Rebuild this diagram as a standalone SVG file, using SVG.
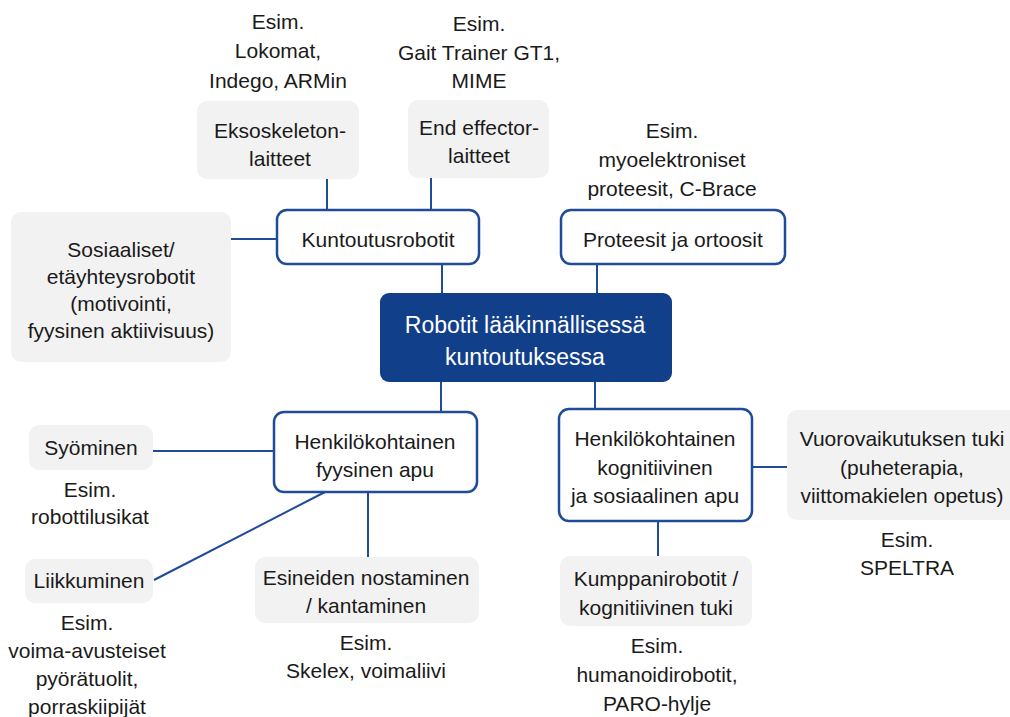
<svg xmlns="http://www.w3.org/2000/svg" width="1010" height="717" viewBox="0 0 1010 717">
<style>
text{font-family:"Liberation Sans",Arial,sans-serif;font-size:21px;fill:#1a1a1a;text-anchor:middle}
.grey{fill:#f2f2f2;stroke:none}
.white{fill:#ffffff;stroke:#1f4b99;stroke-width:2.5}
.main{fill:#123f8a}
.main-t{fill:#ffffff;font-size:23px}
.conn line{stroke:#1f4b99;stroke-width:2}
</style>
<rect width="1010" height="717" fill="#ffffff"/>
<g class="conn" id="connectors">
<line x1="327" y1="179" x2="327" y2="210"/>
<line x1="431" y1="178" x2="431" y2="210"/>
<line x1="231" y1="239" x2="277" y2="239"/>
<line x1="442" y1="264" x2="442" y2="293"/>
<line x1="597" y1="264" x2="597" y2="293"/>
<line x1="441" y1="382" x2="441" y2="412"/>
<line x1="595" y1="382" x2="595" y2="409"/>
<line x1="153" y1="451" x2="274" y2="451"/>
<line x1="325" y1="492" x2="154" y2="580"/>
<line x1="368" y1="492" x2="368" y2="557"/>
<line x1="752" y1="467" x2="787" y2="467"/>
<line x1="658" y1="521" x2="658" y2="556"/>
</g>
<g id="center">
<rect class="main" x="380" y="293" width="292" height="89" rx="9"/>
<text class="main-t" x="525" y="333">Robotit lääkinnällisessä</text>
<text class="main-t" x="525" y="365">kuntoutuksessa</text>
</g>
<g id="kuntoutusrobotit">
<rect class="white" x="277" y="210" width="202" height="54" rx="10"/>
<text x="378" y="247">Kuntoutusrobotit</text>
</g>
<g id="proteesit">
<rect class="white" x="561" y="210" width="224" height="54" rx="10"/>
<text x="673" y="247">Proteesit ja ortoosit</text>
</g>
<g id="eksoskeleton">
<rect class="grey" x="197" y="101" width="162" height="78" rx="10"/>
<text x="280" y="138">Eksoskeleton-</text>
<text x="280" y="166">laitteet</text>
</g>
<g id="endeffector">
<rect class="grey" x="408" y="100" width="141" height="78" rx="10"/>
<text x="479" y="135">End effector-</text>
<text x="479" y="163">laitteet</text>
</g>
<g id="sosiaaliset">
<rect class="grey" x="11" y="212" width="220" height="150" rx="10"/>
<text x="121" y="257">Sosiaaliset/</text>
<text x="121" y="284">etäyhteysrobotit</text>
<text x="121" y="311">(motivointi,</text>
<text x="121" y="338">fyysinen aktiivisuus)</text>
</g>
<g id="fyysinen">
<rect class="white" x="274" y="412" width="203" height="80" rx="10"/>
<text x="375" y="449">Henkilökohtainen</text>
<text x="375" y="477">fyysinen apu</text>
</g>
<g id="kognitiivinen">
<rect class="white" x="559" y="409" width="193" height="112" rx="10"/>
<text x="655" y="446">Henkilökohtainen</text>
<text x="655" y="475">kognitiivinen</text>
<text x="655" y="503">ja sosiaalinen apu</text>
</g>
<g id="vuorovaikutus">
<rect class="grey" x="787" y="410" width="240" height="110" rx="10"/>
<text x="902" y="446">Vuorovaikutuksen tuki</text>
<text x="902" y="475">(puheterapia,</text>
<text x="902" y="503">viittomakielen opetus)</text>
</g>
<g id="syominen">
<rect class="grey" x="29" y="425" width="124" height="45" rx="10"/>
<text x="91" y="455">Syöminen</text>
</g>
<g id="liikkuminen">
<rect class="grey" x="25" y="559" width="128" height="44" rx="10"/>
<text x="89" y="588">Liikkuminen</text>
</g>
<g id="esineiden">
<rect class="grey" x="255" y="557" width="224" height="66" rx="10"/>
<text x="366" y="585">Esineiden nostaminen</text>
<text x="366" y="613">/ kantaminen</text>
</g>
<g id="kumppani">
<rect class="grey" x="560" y="556" width="192" height="70" rx="10"/>
<text x="656" y="586">Kumppanirobotit /</text>
<text x="656" y="615">kognitiivinen tuki</text>
</g>
<g id="examples">
<text x="278" y="29">Esim.</text>
<text x="278" y="58">Lokomat,</text>
<text x="278" y="88">Indego, ARMin</text>
<text x="479" y="31">Esim.</text>
<text x="479" y="60">Gait Trainer GT1,</text>
<text x="479" y="88">MIME</text>
<text x="672" y="138">Esim.</text>
<text x="672" y="167">myoelektroniset</text>
<text x="672" y="196">proteesit, C-Brace</text>
<text x="90" y="497">Esim.</text>
<text x="90" y="524">robottilusikat</text>
<text x="87" y="630">Esim.</text>
<text x="87" y="658">voima-avusteiset</text>
<text x="87" y="686">pyörätuolit,</text>
<text x="87" y="714">porraskiipijät</text>
<text x="366" y="650">Esim.</text>
<text x="366" y="678">Skelex, voimaliivi</text>
<text x="907" y="547">Esim.</text>
<text x="907" y="575">SPELTRA</text>
<text x="657" y="653">Esim.</text>
<text x="657" y="682">humanoidirobotit,</text>
<text x="657" y="711">PARO-hylje</text>
</g>
</svg>
